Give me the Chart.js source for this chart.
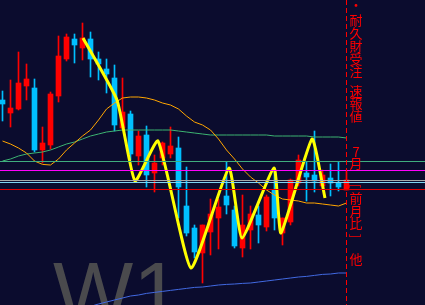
<!DOCTYPE html>
<html>
<head>
<meta charset="utf-8">
<script src="https://cdn.jsdelivr.net/npm/chart.js@4.4.0/dist/chart.umd.min.js"></script>
<style>
    html, body { margin: 0; padding: 0; background: #0b0c2e; overflow: hidden; }
    #wrap { width: 425px; height: 305px; }
</style>
</head>
<body>
<div id="wrap"><canvas id="chart" width="425" height="305"></canvas></div>
<script>
// Velas semanales (W1): apertura, máximo, mínimo, cierre
const opens  = [145.00, 144.35, 144.55, 145.70, 145.60, 142.50, 142.75, 145.20, 147.05, 148.05,
                147.60, 148.05, 147.05, 146.55, 146.10, 143.60, 144.30, 142.20, 143.25, 141.35,
                142.10, 142.30, 142.60, 139.70, 138.60, 137.35, 138.40, 139.10, 140.20, 139.50,
                137.60, 138.50, 139.25, 138.65, 140.50, 138.35, 138.90, 140.85, 141.35, 141.25,
                140.70, 141.10, 140.85, 140.50];
const highs  = [145.45, 146.00, 147.40, 146.80, 146.05, 143.65, 145.40, 148.20, 148.30, 148.30,
                148.85, 148.40, 147.40, 147.05, 146.75, 146.10, 144.45, 143.45, 143.70, 142.25,
                142.90, 143.65, 143.15, 141.65, 138.75, 138.75, 140.05, 140.05, 141.90, 139.70,
                140.25, 139.70, 139.70, 140.25, 141.60, 139.10, 141.05, 142.25, 141.90, 143.45,
                141.50, 141.80, 141.90, 141.50];
const lows   = [143.95, 143.65, 144.50, 145.00, 142.40, 141.85, 142.55, 144.90, 146.95, 146.85,
                147.00, 146.15, 146.00, 145.35, 143.45, 143.50, 142.00, 141.75, 140.65, 140.40,
                141.75, 142.10, 139.10, 138.20, 137.10, 135.85, 137.25, 137.55, 139.30, 137.60,
                137.15, 137.55, 137.85, 138.45, 138.50, 137.75, 138.75, 140.70, 139.95, 140.40,
                140.60, 140.20, 140.45, 140.50];
const closes = [144.80, 144.60, 145.85, 146.05, 142.50, 142.85, 145.30, 147.20, 148.15, 147.75,
                148.10, 147.05, 146.80, 146.30, 143.75, 144.40, 142.30, 143.20, 141.25, 141.85,
                142.85, 142.70, 140.65, 138.35, 137.40, 138.75, 139.30, 139.65, 139.75, 137.70,
                138.75, 139.30, 138.75, 140.15, 139.10, 139.10, 141.00, 142.00, 141.15, 140.95,
                141.25, 140.85, 140.65, 141.00];

// Medias móviles
const maOrange = [142.95, 142.80, 142.60, 142.35, 141.95, 141.78, 141.75, 142.05, 142.50, 142.85,
                  143.20, 143.50, 144.00, 144.55, 144.85, 145.10, 145.15, 145.15, 145.10, 145.00,
                  144.85, 144.75, 144.55, 144.20, 143.90, 143.75, 143.50, 143.05, 142.50, 142.05,
                  141.55, 141.15, 140.85, 140.50, 140.25, 140.05, 140.00, 139.95, 139.85, 139.85,
                  139.80, 139.75, 139.70, 139.85];
const maGreen  = [141.95, 142.05, 142.20, 142.30, 142.35, 142.40, 142.50, 142.65, 142.80, 142.90,
                  143.05, 143.20, 143.30, 143.40, 143.45, 143.50, 143.50, 143.50, 143.50, 143.50,
                  143.50, 143.50, 143.45, 143.40, 143.35, 143.30, 143.25, 143.25, 143.25, 143.25,
                  143.25, 143.25, 143.25, 143.25, 143.20, 143.20, 143.20, 143.20, 143.20, 143.15,
                  143.15, 143.15, 143.15, 143.10];
const maBlue   = [null, null, null, null, null, null, null, null, null, null,
                  134.55, 134.68, 134.80, 134.90, 135.00, 135.10, 135.20, 135.25, 135.33, 135.38,
                  135.43, 135.48, 135.53, 135.58, 135.63, 135.65, 135.70, 135.75, 135.78, 135.80,
                  135.83, 135.85, 135.90, 135.95, 136.00, 136.05, 136.10, 136.15, 136.18, 136.23,
                  136.28, 136.30, 136.35, 136.35];

// ZigZag (posición en velas, precio)
const zigX = [10.06, 14.31, 16.56, 19.44, 23.56, 28.31, 29.94, 33.94, 34.81, 38.69, 40.31];
const zigY = [148.10, 145.00, 140.95, 142.95, 136.60, 141.60, 138.10, 141.60, 138.35, 143.05, 140.10];

// Líneas horizontales
const levelPrices = [141.95, 141.50, 141.00, 140.90, 140.55];
const levelColors = ['#3fae7e', '#ff00ff', '#a8a8a8', '#7fd4f0', '#e00000'];

// Nota vertical
const noteText = '・耐久財受注速報値7月[前月比]他';
const noteY = [5, 20, 33, 46, 59, 71, 91, 103, 116, 152, 163, 186, 198, 211, 223, 236, 259];

const PRICE_MIN = 134.75;
const PRICE_MAX = 150.00;
const X_MIN = -0.3125;
const X_MAX = X_MIN + 425 / 8;
const lastIndex = opens.length - 1;

const idx = opens.map((_, i) => i);
const candleColors = idx.map(i => closes[i] >= opens[i] ? '#ff0000' : '#00bfff');

const bgPlugin = {
    id: 'fondo',
    beforeDraw(chart) {
        const ctx = chart.ctx;
        ctx.save();
        ctx.fillStyle = '#0b0c2e';
        ctx.fillRect(0, 0, chart.width, chart.height);
        ctx.restore();
    },
    beforeDatasetsDraw(chart) {
        // Marca de agua "W1"
        const ctx = chart.ctx;
        ctx.save();
        ctx.font = '85px "Liberation Sans", Arial, sans-serif';
        ctx.fillStyle = '#4a4a4d';
        ctx.textAlign = 'left';
        ctx.textBaseline = 'alphabetic';
        const m = ctx.measureText('W1');
        ctx.fillText('W1', 53 + m.actualBoundingBoxLeft, 263 + m.actualBoundingBoxAscent);
        ctx.restore();
    },
    afterDatasetsDraw(chart) {
        const ctx = chart.ctx;
        const { left, right, top, bottom } = chart.chartArea;
        const yScale = chart.scales.y;
        const xScale = chart.scales.x;
        ctx.save();
        ctx.lineWidth = 1;
        levelPrices.forEach((p, i) => {
            const y = Math.round(yScale.getPixelForValue(p)) + 0.5;
            ctx.strokeStyle = levelColors[i];
            ctx.beginPath();
            ctx.moveTo(left, y);
            ctx.lineTo(right, y);
            ctx.stroke();
        });
        // Línea vertical discontinua en la última vela
        const vx = Math.floor(xScale.getPixelForValue(lastIndex)) + 0.5;
        ctx.strokeStyle = '#ff0000';
        ctx.setLineDash([5, 3]);
        ctx.beginPath();
        ctx.moveTo(vx, top);
        ctx.lineTo(vx, bottom);
        ctx.stroke();
        ctx.setLineDash([]);

        // Texto vertical en japonés
        ctx.fillStyle = '#ff0000';
        ctx.font = '13px "Noto Sans CJK JP", sans-serif';
        ctx.textAlign = 'center';
        ctx.textBaseline = 'middle';
        Array.from(noteText).forEach((ch, i) => {
            if (ch === '[' || ch === ']') {
                ctx.save();
                ctx.translate(356, noteY[i]);
                ctx.rotate(Math.PI / 2);
                ctx.fillText(ch, 0, 0);
                ctx.restore();
            } else {
                ctx.fillText(ch, 356, noteY[i]);
            }
        });
        ctx.restore();
    }
};

const lineDs = (values, color, order) => ({
    type: 'line',
    data: values.map((v, i) => ({ x: i, y: v })),
    borderColor: color,
    borderWidth: 1,
    pointRadius: 0,
    tension: 0,
    spanGaps: false,
    order: order
});

const chart = new Chart(document.getElementById('chart').getContext('2d'), {
    type: 'bar',
    data: {
        datasets: [
            {
                type: 'line',
                data: zigX.map((x, i) => ({ x: x, y: zigY[i] })),
                borderColor: '#ffff00',
                borderWidth: 3,
                pointRadius: 0,
                tension: 0.15,
                order: 0
            },
            lineDs(maOrange, '#ffa500', 1),
            lineDs(maGreen, '#3cb371', 1),
            lineDs(maBlue, '#4169e1', 1),
            {
                type: 'bar',
                data: idx.map(i => ({ x: i, y: [Math.min(opens[i], closes[i]), Math.max(opens[i], closes[i])] })),
                backgroundColor: candleColors,
                borderWidth: 0,
                barThickness: 5,
                grouped: false,
                order: 3
            },
            {
                type: 'bar',
                data: idx.map(i => ({ x: i, y: [lows[i], highs[i]] })),
                backgroundColor: candleColors,
                borderWidth: 0,
                barThickness: 1,
                grouped: false,
                order: 4
            }
        ]
    },
    options: {
        responsive: false,
        animation: false,
        events: [],
        layout: { padding: 0 },
        plugins: {
            legend: { display: false },
            tooltip: { enabled: false }
        },
        scales: {
            x: { type: 'linear', min: X_MIN, max: X_MAX, offset: false, display: false },
            y: { type: 'linear', min: PRICE_MIN, max: PRICE_MAX, display: false }
        }
    },
    plugins: [bgPlugin]
});
</script>
</body>
</html>
